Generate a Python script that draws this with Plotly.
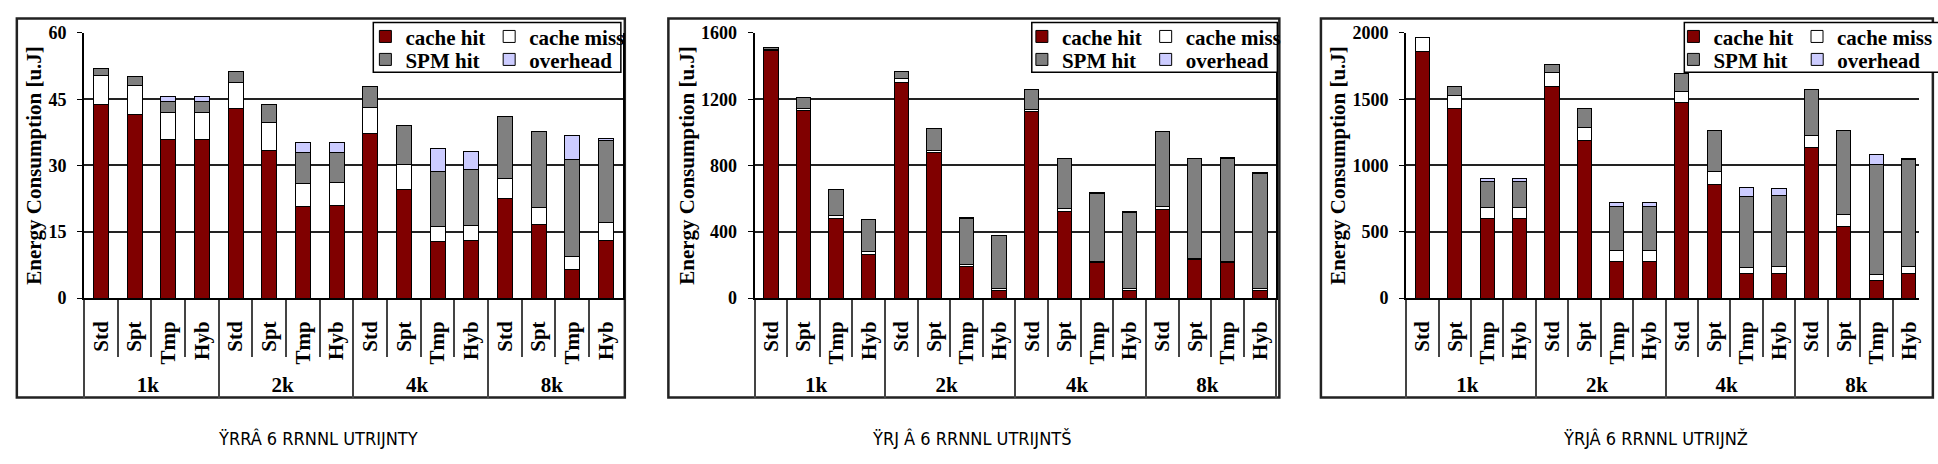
import plotly.graph_objects as go

W, H = 1938, 464

groups = ["1k", "2k", "4k", "8k"]
configs = ["Std", "Spt", "Tmp", "Hyb"]
series_names = ["cache hit", "cache miss", "SPM hit", "overhead"]
series_colors = ["#800000", "#FFFFFF", "#808080", "#CCCCFF"]

# ---- panel 1 (uJ) ----
p1_cache_hit = [43.8, 41.5, 35.9, 35.9, 43.0, 33.4, 20.8, 21.0, 37.2, 24.5, 12.7, 13.0, 22.6, 16.6, 6.4, 13.0]
p1_cache_miss = [6.6, 6.6, 6.1, 6.1, 5.8, 6.3, 5.2, 5.2, 5.9, 5.7, 3.5, 3.5, 4.5, 3.8, 2.9, 4.1]
p1_spm_hit = [1.5, 2.1, 2.5, 2.5, 2.4, 4.0, 6.9, 6.7, 4.8, 8.9, 12.5, 12.6, 14.1, 17.4, 22.0, 18.5]
p1_overhead = [0, 0, 1.2, 1.2, 0, 0, 2.3, 2.3, 0, 0, 5.2, 4.1, 0, 0, 5.5, 0.4]
p1_ticks = [0, 15, 30, 45, 60]

# ---- panel 2 (uJ) ----
p2_cache_hit = [1494, 1133, 483, 263, 1303, 876, 191, 48, 1124, 521, 212, 48, 535, 232, 212, 48]
p2_cache_miss = [8, 14, 13, 15, 23, 16, 10, 8, 15, 20, 8, 8, 15, 7, 8, 8]
p2_spm_hit = [11, 63, 158, 195, 39, 129, 282, 319, 120, 303, 411, 463, 458, 605, 620, 695]
p2_overhead = [0, 0, 4, 4, 0, 0, 5, 5, 0, 0, 6, 6, 0, 0, 7, 7]
p2_ticks = [0, 400, 800, 1200, 1600]

# ---- panel 3 (uJ) ----
p3_cache_hit = [1862, 1433, 603, 603, 1597, 1187, 277, 277, 1476, 854, 186, 186, 1139, 540, 133, 186]
p3_cache_miss = [102, 97, 77, 77, 101, 101, 78, 78, 85, 97, 48, 53, 84, 92, 48, 53]
p3_spm_hit = [5, 67, 198, 198, 61, 145, 333, 333, 133, 316, 531, 531, 350, 632, 825, 803]
p3_overhead = [0, 0, 24, 24, 0, 0, 31, 31, 0, 0, 67, 55, 0, 0, 77, 12]
p3_ticks = [0, 500, 1000, 1500, 2000]

y_title = "Energy Consumption [u.J]"
captions = ["ŸRRÂ 6 RRNNL UTRIJNTY", "ŸRJ Â 6 RRNNL UTRIJNTŠ", "ŸRJÂ 6 RRNNL UTRIJNŽ"]

panels = [
    dict(series=[p1_cache_hit, p1_cache_miss, p1_spm_hit, p1_overhead], ticks=p1_ticks),
    dict(series=[p2_cache_hit, p2_cache_miss, p2_spm_hit, p2_overhead], ticks=p2_ticks),
    dict(series=[p3_cache_hit, p3_cache_miss, p3_spm_hit, p3_overhead], ticks=p3_ticks),
]

# layout geometry in pixels
geo = [
    dict(x0=85, x1=629, box=(17, 9, 631, 405), sym=(391, 516), lbox=(377, 13, 627, 65), cap=321),
    dict(x0=762, x1=1289, box=(675, 9, 1292, 405), sym=(1054, 1179), lbox=(1042, 13, 1290, 65), cap=981),
    dict(x0=1420, x1=1944, box=(1334, 9, 1952, 405), sym=(1712, 1837), lbox=(1701, 13, 1960, 65), cap=1672),
]
PLOT_TOP, PLOT_BOT = 24, 301
ROWS_Y = (28, 52)

SERIF = "Liberation Serif, Times New Roman, serif"

xcat = [[g for g in groups for _ in configs], [c for _ in groups for c in configs]]

fig = go.Figure()
layout = dict(
    width=W, height=H, margin=dict(l=0, r=0, t=0, b=0),
    paper_bgcolor="white", plot_bgcolor="white",
    barmode="stack", bargap=0.56,
    font=dict(family=SERIF, color="black"),
    showlegend=True,
)
shapes = []
annotations = []

def px(x):
    return x / W

def py(y):
    return 1 - y / H

for p, (pan, g) in enumerate(zip(panels, geo)):
    ax = "" if p == 0 else str(p + 1)
    xa, ya = "x" + ax, "y" + ax
    for s, (name, color) in enumerate(zip(series_names, series_colors)):
        vals = [v if v != 0 else None for v in pan["series"][s]]
        lg_idx = p * 4 + s + 1
        lg = "legend" if lg_idx == 1 else "legend%d" % lg_idx
        fig.add_trace(go.Bar(
            x=xcat, y=vals, name=name, xaxis=xa, yaxis=ya,
            marker=dict(color=color, line=dict(color="black", width=1)),
            legend=lg, showlegend=True,
        ))
        row = 0 if s in (0, 1) else 1
        col = 0 if s in (0, 2) else 1
        layout[lg] = dict(
            x=px(g["sym"][col] - 22), xanchor="left",
            y=py(ROWS_Y[row]), yanchor="middle",
            bgcolor="rgba(0,0,0,0)", borderwidth=0,
            font=dict(family=SERIF, size=21, weight="bold", color="black"),
            itemwidth=30, itemclick=False,
        )

    x1 = min(g["x1"], W)
    n = len(xcat[0])
    rng = [-0.5, -0.5 + n * (x1 - g["x0"]) / (g["x1"] - g["x0"])]
    layout["xaxis" + ax] = dict(
        type="multicategory", domain=[px(g["x0"]), px(x1)], anchor=ya,
        range=rng,
        showline=True, linecolor="black", linewidth=2,
        ticks="outside", tickson="boundaries", ticklen=57, tickcolor="#444", tickwidth=1.5,
        tickangle=-90, showgrid=False, ticklabelstandoff=13,
        showdividers=True, dividercolor="#444", dividerwidth=1.5,
        tickfont=dict(family=SERIF, size=21, weight="bold", color="black"),
    )
    layout["yaxis" + ax] = dict(
        domain=[py(PLOT_BOT), py(PLOT_TOP)], anchor=xa,
        range=[0, pan["ticks"][-1]], tickvals=pan["ticks"],
        showline=True, linecolor="black", linewidth=2, mirror=(p < 2),
        ticks="outside", ticklen=5, tickcolor="black",
        showgrid=True, gridcolor="#222", gridwidth=1.5, zeroline=False,
        ticklabelstandoff=7,
        tickfont=dict(family=SERIF, size=18, weight="bold", color="black"),
        title=dict(text=y_title, standoff=1,
                   font=dict(family=SERIF, size=21, weight="bold", color="black")),
    )
    bx0, by0, bx1, by1 = g["box"]
    shapes.append(dict(type="rect", xref="paper", yref="paper",
                       x0=px(bx0), x1=px(bx1), y0=py(by1), y1=py(by0),
                       line=dict(color="#222", width=2.5), layer="below"))
    lx0, ly0, lx1, ly1 = g["lbox"]
    shapes.append(dict(type="rect", xref="paper", yref="paper",
                       x0=px(lx0), x1=px(lx1), y0=py(ly1), y1=py(ly0),
                       fillcolor="white", line=dict(color="black", width=1.5), layer="above"))
    annotations.append(dict(
        text=captions[p], xref="paper", yref="paper", x=px(g["cap"]), y=py(448),
        xanchor="center", yanchor="middle", showarrow=False,
        font=dict(family="Liberation Sans Narrow, DejaVu Sans Condensed, Liberation Sans", size=18, color="black"),
    ))

layout["shapes"] = shapes
layout["annotations"] = annotations
fig.update_layout(**layout)
fig.write_html("out.html")
